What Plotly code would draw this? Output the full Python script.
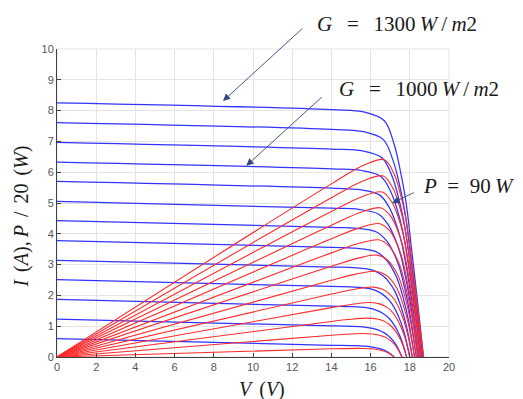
import plotly.graph_objects as go

# Irradiance levels (W/m2), one I-V curve per level
irradiance = [100, 200, 300, 400, 500, 600, 700, 800, 900, 1000, 1100, 1200, 1300]
# Current read at V = 0 (short circuit) and at V = 14 V (end of flat part)
i_sc = [0.60, 1.23, 1.87, 2.51, 3.14, 3.78, 4.43, 5.05, 5.70, 6.33, 6.97, 7.61, 8.25]
i_14 = [0.38, 1.01, 1.65, 2.29, 2.92, 3.56, 4.21, 4.83, 5.48, 6.11, 6.75, 7.39, 8.03]
# Open-circuit voltage read where each blue curve meets I = 0
v_oc = [17.20, 17.60, 17.84, 18.00, 18.13, 18.24, 18.33, 18.41, 18.47, 18.54, 18.59, 18.64, 18.70]
# Knee: distance below Voc (V) and current as a fraction of the flat-part current
knee_dv = [3.0, 2.0, 1.5, 1.2, 0.9, 0.6, 0.3, 0.0]
knee_frac = [
    [0.994, 0.968, 0.925, 0.874, 0.788, 0.645, 0.404, 0.0],
    [0.994, 0.967, 0.920, 0.865, 0.775, 0.627, 0.389, 0.0],
    [0.993, 0.966, 0.914, 0.855, 0.762, 0.609, 0.373, 0.0],
    [0.993, 0.965, 0.909, 0.846, 0.749, 0.591, 0.358, 0.0],
    [0.993, 0.964, 0.903, 0.836, 0.735, 0.573, 0.343, 0.0],
    [0.992, 0.963, 0.898, 0.827, 0.722, 0.555, 0.327, 0.0],
    [0.992, 0.962, 0.893, 0.817, 0.709, 0.538, 0.312, 0.0],
    [0.992, 0.960, 0.887, 0.808, 0.696, 0.520, 0.297, 0.0],
    [0.991, 0.959, 0.882, 0.798, 0.683, 0.502, 0.281, 0.0],
    [0.991, 0.958, 0.876, 0.789, 0.669, 0.484, 0.266, 0.0],
    [0.991, 0.957, 0.871, 0.779, 0.656, 0.466, 0.251, 0.0],
    [0.990, 0.956, 0.865, 0.770, 0.643, 0.448, 0.235, 0.0],
    [0.990, 0.955, 0.860, 0.760, 0.630, 0.430, 0.220, 0.0],
]
x_ticks = [0, 2, 4, 6, 8, 10, 12, 14, 16, 18, 20]
y_ticks = [0, 1, 2, 3, 4, 5, 6, 7, 8, 9, 10]

fig = go.Figure()
for k, g in enumerate(irradiance):
    v = [0.0, 14.0] + [v_oc[k] - d for d in knee_dv]
    i = [i_sc[k], i_14[k]] + [f * i_14[k] for f in knee_frac[k]]
    p20 = [vv * ii / 20.0 for vv, ii in zip(v, i)]
    fig.add_trace(go.Scatter(x=v, y=i, mode="lines", name=f"I, G={g}",
                             line=dict(color="#3333ff", width=1.25, shape="spline")))
    fig.add_trace(go.Scatter(x=v, y=p20, mode="lines", name=f"P/20, G={g}",
                             line=dict(color="#ff2a2a", width=1.1, shape="spline")))

tickfont = dict(family="Liberation Sans, Arial, sans-serif", size=11, color="#555555")
fig.update_xaxes(range=[0, 20], tickvals=x_ticks, ticks="inside", ticklen=4,
                 tickcolor="#404040", showline=True, linecolor="#404040", linewidth=1,
                 showgrid=True, gridcolor="#e4e4e4", gridwidth=1, zeroline=False,
                 tickfont=tickfont)
fig.update_yaxes(range=[0, 10], tickvals=y_ticks, ticks="inside", ticklen=4,
                 tickcolor="#404040", showline=True, linecolor="#404040", linewidth=1,
                 showgrid=True, gridcolor="#e4e4e4", gridwidth=1, zeroline=False,
                 tickfont=tickfont)

serif = dict(family="Liberation Serif, DejaVu Serif, serif", size=21, color="#1a1a1a")
label_font = dict(family="Liberation Serif, DejaVu Serif, serif", size=20, color="#1a1a1a")
arrow_col = "#34467a"
sp = "\u2002\u2009"
en = "\u2002"
th = "\u2009"
ann = [
    dict(x=0.658, y=1.08, xref="paper", yref="paper",
         text=f"<i>G</i>{sp}={sp}1300{th}<i>W</i>{th}/{th}<i>m</i>2",
         showarrow=False, xanchor="left", yanchor="middle", font=serif),
    dict(x=0.714, y=0.869, xref="paper", yref="paper",
         text=f"<i>G</i>{sp}={sp}1000{th}<i>W</i>{th}/{th}<i>m</i>2",
         showarrow=False, xanchor="left", yanchor="middle", font=serif),
    dict(x=0.9286, y=0.5565, xref="paper", yref="paper",
         text=f"<i>P</i>{en}={en}90{th}<i>W</i>",
         showarrow=False, xanchor="left", yanchor="middle", font=serif),
    dict(x=8.47, y=8.31, xref="x", yref="y", text="", showarrow=True, ax=81, ay=-74,
         arrowhead=2, arrowsize=1.6, arrowwidth=0.9, arrowcolor=arrow_col, standoff=0),
    dict(x=9.66, y=6.21, xref="x", yref="y", text="", showarrow=True, ax=77, ay=-70,
         arrowhead=2, arrowsize=1.6, arrowwidth=0.9, arrowcolor=arrow_col, standoff=0),
    dict(x=17.1, y=5.0, xref="x", yref="y", text="", showarrow=True, ax=23, ay=-11,
         arrowhead=2, arrowsize=1.6, arrowwidth=0.9, arrowcolor=arrow_col, standoff=0),
    dict(x=0.523, y=-0.106, xref="paper", yref="paper",
         text=f"<i>V</i>{th}{th}(<i>V</i>)",
         showarrow=False, xanchor="center", yanchor="middle", font=label_font),
    dict(x=-0.09, y=0.455, xref="paper", yref="paper",
         text=f"<i>I</i>{th}{th}(<i>A</i>),{th}<i>P</i>{th}{th}/{th}{th}20{th}{th}(<i>W</i>)",
         showarrow=False, xanchor="center", yanchor="middle", textangle=-90, font=label_font),
]

# page body has an 8 px default margin, so the figure is 8 px smaller and margins shifted
fig.update_layout(
    width=515, height=391,
    margin=dict(l=49, r=74, t=41, b=42),
    paper_bgcolor="white", plot_bgcolor="white",
    showlegend=False,
    annotations=ann,
    shapes=[dict(type="rect", xref="x domain", yref="y domain", x0=0, y0=0, x1=1, y1=1,
                 line=dict(color="#e4e4e4", width=1), layer="below")],
)
fig.write_html("out.html")
